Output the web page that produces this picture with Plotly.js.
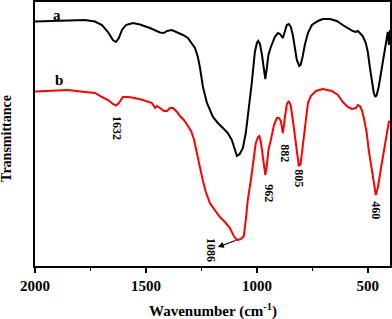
<!DOCTYPE html>
<html><head><meta charset="utf-8">
<script src="https://cdn.plot.ly/plotly-3.0.1.min.js"></script>
<style>body{margin:0;padding:0;background:#fff}#c{width:392px;height:319px}</style>
</head><body><div id="c"></div>
<script>
const waveA = [2000,1932,1851,1775,1730,1698,1671,1649,1635,1622,1608,1590,1559,1527,1482,1459,1437,1419,1405,1383,1360,1333,1311,1293,1279,1266,1257,1243,1225,1198,1176,1153,1131,1113,1099,1090,1077,1063,1050,1041,1032,1023,1009,1000,994,986,977,968,962,955,948,937,919,905,896,883,874,865,856,847,838,829,820,809,803,794,784,770,752,725,703,671,640,613,586,568,554,545,536,523,509,500,491,482,473,466,460,451,442,432,423,414,410,405,401];
const transA = [244.5,245,245.5,246,244.5,241,234,226,224,228,236,241,243,241.5,238,236,233.5,233,235,236,234,231,228,223,218,209,199,179,163,149,143,138,133,126,116,110,112,118,133,149,166,183,214,223,225,222,211,194,187,198,211,219,229,233,232,228,235,241,242,239,231,218,206,200,201,209,221,233,241,245,247,247,245,241,237,235,234,235,233,230,223,214,199,184,173,169,171,179,191,206,218,228,234,221,236];
const waveB = [2000,1932,1851,1775,1730,1698,1671,1649,1635,1622,1604,1581,1550,1514,1473,1459,1450,1437,1419,1405,1392,1378,1360,1347,1329,1311,1297,1284,1270,1257,1243,1230,1212,1189,1167,1144,1122,1104,1090,1072,1059,1050,1041,1027,1018,1005,995,989,982,973,962,955,948,937,923,910,901,892,883,874,865,856,847,838,829,820,811,803,794,784,770,757,734,703,662,635,613,590,572,554,545,536,527,518,505,496,482,473,464,455,446,437,432,423,414,405,401];
const transB = [174.5,175,176,174,173,169,166,162,160.5,163,169,169,168,166,163,158,160,158,155,155,158,158,154,150,146,140,135,127,114,99,85,74,63,56,49,44,38,30,26,27,30,46,66,86,100,123,129,130,124,108,91,101,116,126,141,148,148,145,133,148,162,165,160,146,129,113,100,102,119,141,163,170,175,177,175,171,164,159,157,158,161,160,156,148,133,116,96,81,71,78,93,103,109,123,133,144,145];
const seriesLabels = ["a","b"];
const peakLabels = ["1632","962","882","805","460","1086"];
const peakX = [1630,946,874,811,464,1207];
const peakY = [138,73,113,88,56,16];
const arrowTail = [1090,26];
const arrowHead = [1176,19];
const xTicks = [2000,1500,1000,500];

const serif = "Liberation Serif, Times New Roman, serif";
const traces = [
 {x: waveA, y: transA, mode:'lines', line:{color:'#000000', width:2}, name: seriesLabels[0]},
 {x: waveB, y: transB, mode:'lines', line:{color:'#ff0000', width:2}, name: seriesLabels[1]}
];
const ann = [];
ann.push({xref:'paper',yref:'paper',x:0.062,y:0.951,xanchor:'center',yanchor:'middle',text:'<b>'+seriesLabels[0]+'</b>',showarrow:false,font:{family:serif,size:15,color:'#000'}});
ann.push({xref:'paper',yref:'paper',x:0.068,y:0.705,xanchor:'center',yanchor:'middle',text:'<b>'+seriesLabels[1]+'</b>',showarrow:false,font:{family:serif,size:15,color:'#000'}});
for (let i=0;i<6;i++){
 ann.push({x:peakX[i],y:peakY[i],xanchor:'center',yanchor:'middle',text:'<b>'+peakLabels[i]+'</b>',textangle:90,showarrow:false,font:{family:serif,size:12,color:'#000'}});
}
ann.push({x:arrowHead[0],y:arrowHead[1],ax:arrowTail[0],ay:arrowTail[1],axref:'x',ayref:'y',text:'',showarrow:true,arrowhead:2,arrowsize:1,arrowwidth:1.2,arrowcolor:'#000'});
ann.push({xref:'paper',yref:'paper',x:-0.079,y:0.485,xanchor:'center',yanchor:'middle',text:'<b>Transmittance</b>',textangle:-90,showarrow:false,font:{family:serif,size:14,color:'#000'}});
ann.push({xref:'paper',yref:'paper',x:0.5,y:-0.167,xanchor:'center',yanchor:'middle',text:'<b>Wavenumber (cm<sup>-1</sup>)</b>',showarrow:false,font:{family:serif,size:15,color:'#000'}});

const layout = {
 width:392,height:319,
 margin:{l:35,r:2,t:2,b:53},
 paper_bgcolor:'#fff',plot_bgcolor:'#fff',
 showlegend:false,
 xaxis:{range:[2000,400],automargin:false,tickvals:xTicks,ticktext:xTicks.map(String),ticks:'outside',ticklen:5,tickwidth:2,tickcolor:'#000',
   minor:{dtick:250,ticks:'outside',ticklen:3,tickwidth:1.5,tickcolor:'#000'},
   showline:true,linewidth:2,linecolor:'#000',mirror:true,showgrid:false,zeroline:false,
   tickfont:{family:serif,size:15,color:'#000',weight:'bold'}},
 yaxis:{range:[0,264],automargin:false,showticklabels:false,ticks:'',showline:true,linewidth:2,linecolor:'#000',mirror:true,showgrid:false,zeroline:false},
 annotations:ann
};
Plotly.newPlot('c',traces,layout,{staticPlot:true,displayModeBar:false});
</script></body></html>
